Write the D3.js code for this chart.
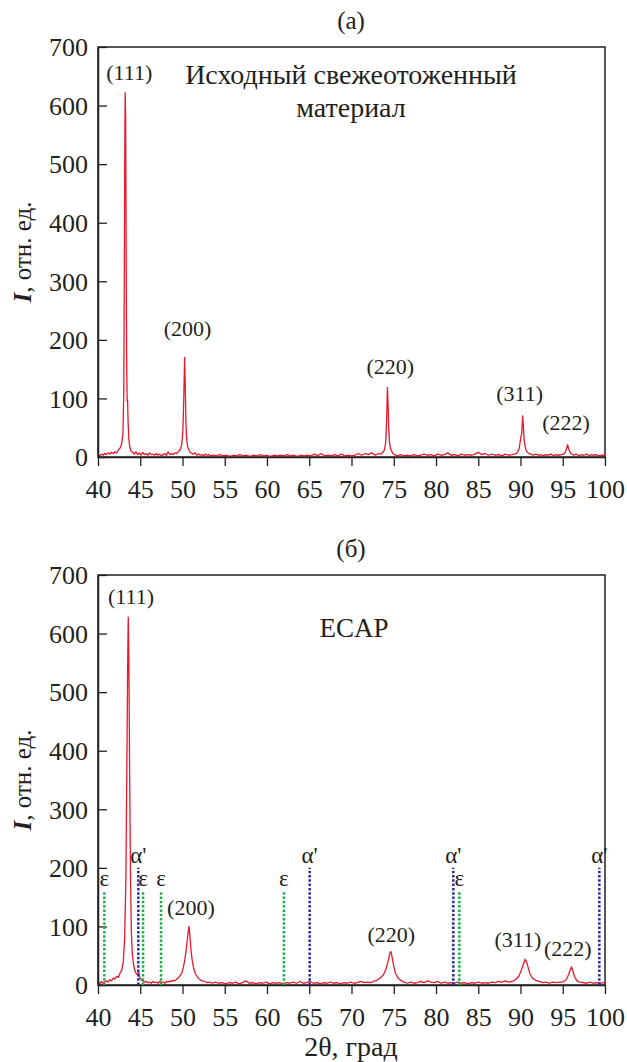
<!DOCTYPE html>
<html>
<head>
<meta charset="utf-8">
<script src="https://cdn.jsdelivr.net/npm/d3@7"></script>
<style>
    body { margin: 0; background: #fff; }
    svg text { font-family: "Liberation Serif", "Times New Roman", Tinos, "DejaVu Serif", "Noto Serif", FreeSerif, serif; fill: #231f20; }
</style>
</head>
<body>
<svg id="chart" width="627" height="1062"></svg>
<script>
// (a) annealed material: [2theta, I]
const annealed = [
    [40.0, 3], [40.2, 2], [40.4, 5], [40.6, 3], [40.8, 6], [41.0, 4], [41.2, 7], [41.4, 5], [41.6, 8], [41.8, 6],
    [42.0, 9], [42.2, 7], [42.4, 12], [42.6, 15], [42.8, 22], [42.95, 40], [43.05, 110], [43.12, 330], [43.18, 560],
    [43.22, 622], [43.27, 580], [43.32, 400], [43.38, 180], [43.45, 95], [43.5, 98], [43.56, 60], [43.65, 30],
    [43.75, 18], [43.9, 10], [44.1, 8], [44.3, 5], [44.5, 9], [44.7, 4], [44.9, 7], [45.1, 3], [45.3, 8], [45.5, 4],
    [45.7, 6], [45.9, 3], [46.1, 7], [46.3, 4], [46.5, 5], [46.7, 3], [46.9, 6], [47.1, 3], [47.3, 5], [47.5, 2],
    [47.7, 4], [47.9, 6], [48.1, 3], [48.3, 9], [48.5, 4], [48.7, 6], [48.9, 4], [49.1, 7], [49.3, 6], [49.5, 9],
    [49.7, 12], [49.9, 20], [50.05, 45], [50.15, 100], [50.25, 170], [50.33, 120], [50.4, 60], [50.5, 30], [50.6, 18],
    [50.75, 12], [50.9, 8], [51.1, 6], [51.3, 5], [51.5, 7], [51.7, 3], [51.9, 5], [52.1, 3], [52.3, 4], [52.5, 2],
    [52.7, 5], [52.9, 3], [53.1, 4], [53.3, 2], [53.6, 3], [54.0, 2], [54.4, 4], [54.8, 2], [55.2, 3], [55.6, 1],
    [56.0, 3], [56.4, 2], [56.8, 4], [57.2, 2], [57.6, 3], [58.0, 1], [58.4, 3], [58.8, 2], [59.2, 4], [59.6, 2],
    [60.0, 3], [60.4, 1], [60.8, 3], [61.2, 2], [61.6, 3], [62.0, 2], [62.4, 4], [62.8, 2], [63.2, 3], [63.6, 1],
    [64.0, 3], [64.4, 2], [64.8, 3], [65.2, 2], [65.6, 5], [66.0, 2], [66.4, 6], [66.8, 2], [67.2, 3], [67.6, 2],
    [68.0, 4], [68.4, 2], [68.8, 5], [69.2, 2], [69.6, 3], [70.0, 2], [70.4, 3], [70.8, 6], [71.2, 3], [71.6, 6],
    [72.0, 4], [72.4, 7], [72.8, 3], [73.2, 6], [73.5, 5], [73.7, 8], [73.9, 12], [74.05, 25], [74.15, 60],
    [74.25, 119], [74.33, 90], [74.4, 50], [74.5, 25], [74.6, 15], [74.75, 10], [74.9, 6], [75.1, 4], [75.4, 2],
    [75.8, 4], [76.2, 2], [76.6, 3], [77.0, 2], [77.4, 4], [77.8, 2], [78.2, 3], [78.6, 5], [79.0, 3], [79.4, 4],
    [79.8, 2], [80.2, 5], [80.6, 3], [81.0, 4], [81.4, 7], [81.8, 3], [82.2, 4], [82.6, 2], [83.0, 5], [83.4, 3],
    [83.8, 4], [84.2, 3], [84.6, 5], [85.0, 8], [85.4, 4], [85.8, 6], [86.2, 3], [86.6, 5], [87.0, 3], [87.4, 4],
    [87.8, 2], [88.2, 5], [88.6, 3], [89.0, 4], [89.3, 5], [89.5, 6], [89.7, 10], [89.85, 15], [89.95, 25],
    [90.05, 35], [90.15, 40], [90.25, 70], [90.33, 55], [90.42, 30], [90.52, 20], [90.65, 12], [90.8, 8], [91.0, 6],
    [91.2, 5], [91.5, 3], [91.8, 5], [92.1, 3], [92.4, 4], [92.7, 2], [93.0, 4], [93.3, 3], [93.6, 5], [93.9, 2],
    [94.2, 4], [94.5, 3], [94.8, 4], [95.1, 5], [95.3, 8], [95.45, 14], [95.58, 21], [95.7, 14], [95.85, 8],
    [96.05, 5], [96.3, 3], [96.6, 5], [96.9, 2], [97.2, 4], [97.5, 3], [97.8, 5], [98.1, 2], [98.4, 4], [98.7, 3],
    [99.0, 4], [99.3, 2], [99.6, 3], [100.0, 3]
];

// (б) after ECAP: [2theta, I]
const ecap = [
    [40.0, 4], [40.2, 2], [40.4, 6], [40.6, 3], [40.8, 5], [41.0, 7], [41.2, 5], [41.4, 9], [41.6, 7], [41.8, 12],
    [42.0, 10], [42.2, 15], [42.4, 13], [42.6, 20], [42.8, 25], [43.0, 40], [43.15, 80], [43.3, 180], [43.42, 380],
    [43.52, 560], [43.58, 628], [43.65, 560], [43.75, 350], [43.85, 180], [43.95, 90], [44.05, 55], [44.2, 35],
    [44.35, 25], [44.5, 20], [44.65, 18], [44.8, 22], [44.95, 12], [45.1, 9], [45.3, 7], [45.5, 5], [45.7, 6],
    [45.9, 4], [46.1, 5], [46.3, 3], [46.5, 6], [46.7, 4], [46.9, 5], [47.1, 3], [47.3, 6], [47.5, 4], [47.7, 5],
    [47.9, 3], [48.1, 6], [48.3, 5], [48.5, 7], [48.7, 6], [48.9, 8], [49.1, 7], [49.3, 10], [49.5, 12], [49.7, 16],
    [49.9, 20], [50.1, 30], [50.3, 45], [50.5, 68], [50.65, 88], [50.77, 100], [50.9, 80], [51.0, 60], [51.15, 42],
    [51.3, 30], [51.5, 20], [51.7, 15], [51.9, 11], [52.1, 9], [52.3, 7], [52.6, 6], [52.9, 4], [53.2, 5], [53.5, 3],
    [53.9, 5], [54.3, 3], [54.7, 4], [55.1, 2], [55.5, 4], [55.9, 3], [56.3, 5], [56.7, 2], [57.1, 4], [57.5, 7],
    [57.9, 3], [58.3, 4], [58.7, 2], [59.1, 4], [59.5, 3], [59.9, 5], [60.3, 2], [60.7, 4], [61.1, 3], [61.5, 4],
    [61.9, 2], [62.3, 4], [62.7, 3], [63.1, 5], [63.5, 3], [63.9, 6], [64.3, 3], [64.7, 4], [65.1, 6], [65.5, 3],
    [65.9, 4], [66.3, 2], [66.7, 4], [67.1, 3], [67.5, 5], [67.9, 3], [68.3, 4], [68.7, 2], [69.1, 4], [69.5, 3],
    [69.9, 5], [70.3, 3], [70.7, 4], [71.1, 6], [71.5, 4], [71.9, 5], [72.3, 4], [72.6, 6], [73.0, 8], [73.4, 12],
    [73.8, 18], [74.1, 28], [74.35, 42], [74.55, 55], [74.67, 57], [74.8, 48], [75.0, 32], [75.2, 20], [75.5, 12],
    [75.8, 8], [76.2, 5], [76.6, 3], [77.0, 5], [77.4, 3], [77.8, 4], [78.2, 6], [78.6, 4], [79.0, 7], [79.4, 5],
    [79.8, 4], [80.2, 6], [80.6, 3], [81.0, 5], [81.4, 3], [81.8, 4], [82.2, 3], [82.6, 5], [83.0, 3], [83.4, 4],
    [83.8, 2], [84.2, 4], [84.6, 3], [85.0, 5], [85.4, 3], [85.8, 4], [86.2, 3], [86.6, 5], [87.0, 4], [87.4, 6],
    [87.8, 5], [88.2, 7], [88.6, 5], [89.0, 6], [89.4, 9], [89.8, 15], [90.1, 25], [90.35, 36], [90.55, 44],
    [90.7, 40], [90.9, 30], [91.1, 20], [91.4, 12], [91.8, 8], [92.2, 6], [92.6, 4], [93.0, 5], [93.4, 3], [93.8, 5],
    [94.2, 4], [94.6, 5], [95.0, 5], [95.4, 9], [95.7, 18], [95.9, 27], [96.05, 31], [96.2, 24], [96.4, 14],
    [96.7, 7], [97.0, 5], [97.4, 4], [97.8, 3], [98.2, 5], [98.6, 3], [99.0, 4], [99.4, 3], [99.8, 4], [100.0, 3]
];

// peak labels: [text, 2theta position, baseline intensity]
const annealedPeaks = [["(111)", 43.7, 644], ["(200)", 50.6, 206], ["(220)", 74.6, 141], ["(311)", 89.9, 95], ["(222)", 95.4, 46]];
const ecapPeaks = [["(111)", 43.9, 650], ["(200)", 51.0, 119], ["(220)", 74.7, 74], ["(311)", 89.7, 65], ["(222)", 95.6, 50]];

// phase markers in (б)
const epsilonLines = [40.75, 45.33, 47.46, 62.0, 82.76];
const alphaLines = [44.77, 65.05, 82.05, 99.33];
const epsilonHeight = 160, alphaHeight = 200;

const xTicks = d3.range(40, 101, 5);
const yTicks = d3.range(0, 701, 100);

const FONT = '"Liberation Serif", "Times New Roman", Tinos, "DejaVu Serif", "Noto Serif", FreeSerif, serif';
const svg = d3.select("#chart");
const left = 98, right = 605;

let drawPanel = function(top, bottom, data, peaks, title) {
    var x = d3.scaleLinear().domain([40, 100]).range([left, right]);
    var y = d3.scaleLinear().domain([0, 700]).range([bottom, top]);
    var g = svg.append("g");

    // frame
    g.append("rect")
        .attr("x", left).attr("y", top)
        .attr("width", right - left).attr("height", bottom - top)
        .attr("fill", "none").attr("stroke", "#231f20").attr("stroke-width", 1.5);

    var line = d3.line().x(d => x(d[0])).y(d => y(d[1]));
    g.append("path")
        .datum(data)
        .attr("d", line)
        .attr("fill", "none")
        .attr("stroke", "#e8192c")
        .attr("stroke-width", 1.3)
        .attr("stroke-linejoin", "round");

    var yAxis = g.append("g")
        .attr("transform", "translate(" + left + ",0)")
        .call(d3.axisLeft(y).tickValues(yTicks).tickSize(-9).tickSizeOuter(0).tickPadding(10));
    var xAxis = g.append("g")
        .attr("transform", "translate(0," + bottom + ")")
        .call(d3.axisBottom(x).tickValues(xTicks).tickSize(9).tickSizeOuter(0).tickPadding(14));
    [xAxis, yAxis].forEach(function(a) {
        a.attr("font-family", FONT);
        a.select(".domain").attr("stroke", "#231f20").attr("stroke-width", 1.5);
        a.selectAll(".tick line").attr("stroke", "#231f20").attr("stroke-width", 1.3);
        a.selectAll(".tick text").attr("font-size", 26).attr("fill", "#231f20");
    });
    yAxis.selectAll(".tick text").attr("dy", "0.34em");

    g.selectAll("text.peak")
        .data(peaks)
        .enter()
        .append("text")
        .attr("class", "peak")
        .attr("x", d => x(d[1]))
        .attr("y", d => y(d[2]))
        .attr("text-anchor", "middle")
        .attr("font-size", 22)
        .text(d => d[0]);

    g.append("text")
        .attr("x", 351).attr("y", top - 18)
        .attr("text-anchor", "middle")
        .attr("font-size", 25)
        .text(title);

    // y label
    var yl = g.append("text")
        .attr("transform", "translate(31," + (top + bottom) / 2 + ") rotate(-90)")
        .attr("text-anchor", "middle")
        .attr("font-size", 25);
    yl.append("tspan").attr("font-style", "italic").attr("font-weight", "bold").text("I");
    yl.append("tspan").text(", отн. ед.");

    return { g: g, x: x, y: y };
}

let a = drawPanel(47, 457, annealed, annealedPeaks, "(а)");
a.g.append("text")
    .attr("x", 351).attr("y", 84)
    .attr("text-anchor", "middle").attr("font-size", 28)
    .text("Исходный свежеотоженный");
a.g.append("text")
    .attr("x", 351).attr("y", 117)
    .attr("text-anchor", "middle").attr("font-size", 28)
    .text("материал");

let b = drawPanel(575, 985, ecap, ecapPeaks, "(б)");
b.g.append("text")
    .attr("x", 354).attr("y", 637)
    .attr("text-anchor", "middle").attr("font-size", 27)
    .text("ECAP");

let markers = function(values, h, color, label) {
    b.g.selectAll(null)
        .data(values)
        .enter()
        .append("line")
        .attr("x1", d => b.x(d)).attr("x2", d => b.x(d))
        .attr("y1", b.y(0)).attr("y2", b.y(h))
        .attr("stroke", color)
        .attr("stroke-width", 2.5)
        .attr("stroke-dasharray", "2.5,1.8");
    b.g.selectAll(null)
        .data(values)
        .enter()
        .append("text")
        .attr("x", d => b.x(d))
        .attr("y", b.y(h) - 5)
        .attr("text-anchor", "middle")
        .attr("font-size", 23)
        .text(label);
}
markers(epsilonLines, epsilonHeight, "#1fae4a", "ε");
markers(alphaLines, alphaHeight, "#2b2b9e", "α'");

svg.append("text")
    .attr("x", 351).attr("y", 1056)
    .attr("text-anchor", "middle")
    .attr("font-size", 28)
    .text("2θ, град");
</script>
</body>
</html>
